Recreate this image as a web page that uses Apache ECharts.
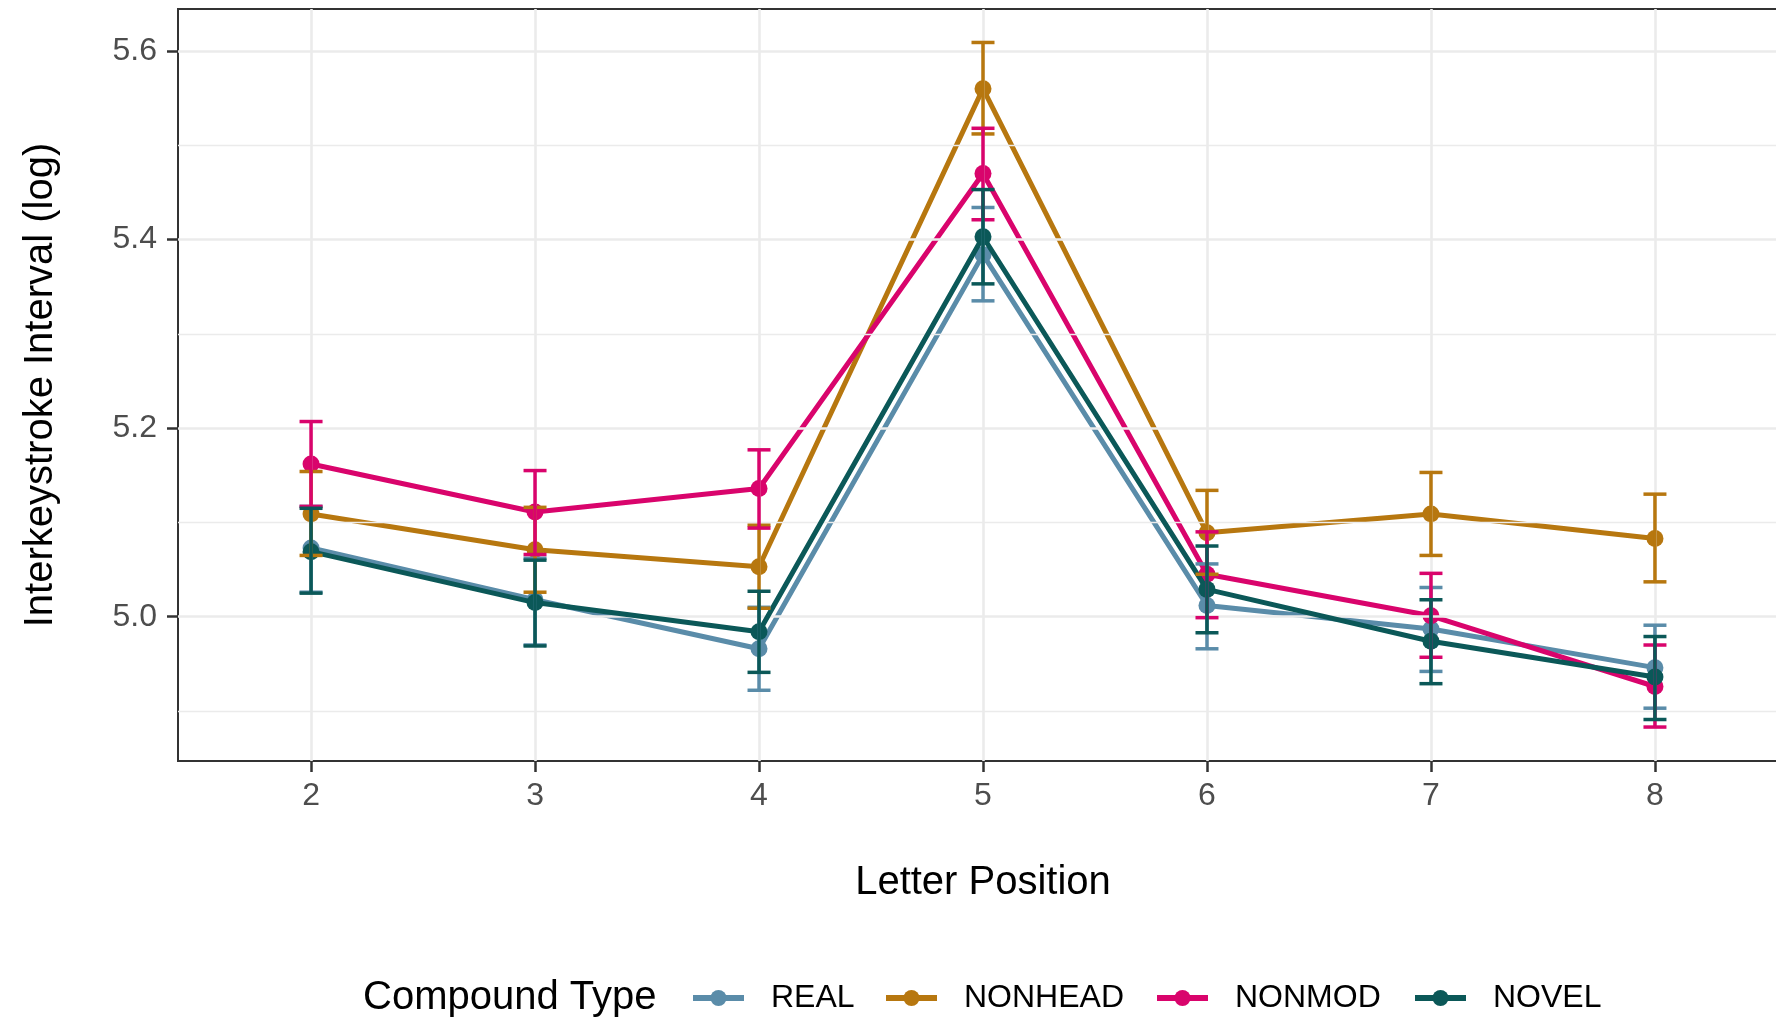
<!DOCTYPE html>
<html>
<head>
<meta charset="utf-8">
<script src="https://cdn.jsdelivr.net/npm/echarts@6/dist/echarts.min.js"></script>
<style>html,body{margin:0;padding:0;background:#fff;}#c{width:1776px;height:1022px;}</style>
</head>
<body>
<div id="c"></div>
<script>
const positions = [2, 3, 4, 5, 6, 7, 8];
const groups = ['REAL', 'NONHEAD', 'NONMOD', 'NOVEL'];
const colors = ['#5a8ca9', '#b7770f', '#d9046c', '#0b5858'];

const realMean = [5.073, 5.018, 4.966, 5.384, 5.012, 4.987, 4.946];
const realLow  = [5.026, 4.970, 4.922, 5.335, 4.966, 4.942, 4.903];
const realHigh = [5.117, 5.062, 5.010, 5.434, 5.056, 5.031, 4.991];

const nonheadMean = [5.109, 5.071, 5.053, 5.560, 5.089, 5.109, 5.083];
const nonheadLow  = [5.065, 5.026, 5.009, 5.512, 5.045, 5.065, 5.037];
const nonheadHigh = [5.154, 5.116, 5.097, 5.609, 5.134, 5.153, 5.130];

const nonmodMean = [5.162, 5.111, 5.136, 5.470, 5.045, 5.001, 4.926];
const nonmodLow  = [5.117, 5.066, 5.094, 5.421, 4.999, 4.957, 4.883];
const nonmodHigh = [5.207, 5.155, 5.177, 5.518, 5.090, 5.046, 4.970];

const novelMean = [5.069, 5.015, 4.984, 5.403, 5.029, 4.974, 4.936];
const novelLow  = [5.025, 4.969, 4.941, 5.353, 4.983, 4.929, 4.891];
const novelHigh = [5.115, 5.060, 5.027, 5.453, 5.075, 5.018, 4.979];

const yTicks = [5.0, 5.2, 5.4, 5.6];
const yMinor = [4.9, 5.1, 5.3, 5.5];
const xTicks = [2, 3, 4, 5, 6, 7, 8];

const means = [realMean, nonheadMean, nonmodMean, novelMean];
const lows = [realLow, nonheadLow, nonmodLow, novelLow];
const highs = [realHigh, nonheadHigh, nonmodHigh, novelHigh];

const FONT = 'Liberation Sans, Arial, sans-serif';
const chart = echarts.init(document.getElementById('c'), null, {renderer: 'canvas'});

const series = [];
// gridlines
series.push({
  type: 'line', name: '_grid', data: [], silent: true, z: 0,
  markLine: {
    silent: true, symbol: 'none', label: {show: false}, animation: false,
    emphasis: {disabled: true},
    data: [
      ...yMinor.map(v => ({yAxis: v, lineStyle: {color: '#ebebeb', width: 1.3, type: 'solid'}})),
      ...yTicks.map(v => ({yAxis: v, lineStyle: {color: '#ebebeb', width: 2.6, type: 'solid'}})),
      ...xTicks.map(v => ({xAxis: v, lineStyle: {color: '#ebebeb', width: 2.6, type: 'solid'}}))
    ]
  }
});
groups.forEach((g, gi) => {
  series.push({
    type: 'line', name: g, z: 2 + gi,
    data: positions.map((p, i) => [p, means[gi][i]]),
    symbol: 'circle', symbolSize: 17, showSymbol: true,
    lineStyle: {color: colors[gi], width: 5},
    itemStyle: {color: colors[gi]},
    emphasis: {disabled: true}, animation: false
  });
});
groups.forEach((g, gi) => {
  series.push({
    type: 'custom', name: g + '_err', z: 10 + gi,
    data: positions.map((p, i) => [p, lows[gi][i], highs[gi][i]]),
    encode: {x: 0, y: [1, 2]},
    renderItem: function (params, api) {
      const x = api.value(0);
      const a = api.coord([x, api.value(1)]);
      const b = api.coord([x, api.value(2)]);
      const hw = 11.5;
      const st = {stroke: colors[gi], lineWidth: 3.5, fill: null};
      return {type: 'group', children: [
        {type: 'line', shape: {x1: a[0], y1: a[1], x2: b[0], y2: b[1]}, style: st},
        {type: 'line', shape: {x1: a[0] - hw, y1: a[1], x2: a[0] + hw, y2: a[1]}, style: st},
        {type: 'line', shape: {x1: b[0] - hw, y1: b[1], x2: b[0] + hw, y2: b[1]}, style: st}
      ]};
    },
    animation: false, silent: true
  });
});

const legendX = [690, 883, 1154, 1412];
const legends = groups.map((g, gi) => ({
  data: [g], left: legendX[gi], top: 982, orient: 'horizontal', padding: 0,
  itemWidth: 51, itemHeight: 20, selectedMode: false,
  lineStyle: {width: 6},
  textStyle: {fontFamily: FONT, fontSize: 32, color: '#000', lineHeight: 32, padding: [0, 0, 0, 22]}
}));

chart.setOption({
  backgroundColor: '#fff',
  animation: false,
  title: {
    text: 'Compound Type', left: 363, top: 978, padding: 0,
    textStyle: {fontFamily: FONT, fontSize: 40, fontWeight: 'normal', color: '#000', lineHeight: 40}
  },
  legend: legends,
  grid: {
    left: 178, top: 9, right: -12, bottom: 261,
    show: true, borderColor: '#333333', borderWidth: 2, backgroundColor: 'transparent',
    containLabel: false, outerBoundsMode: 'none'
  },
  xAxis: {
    type: 'value', min: 1.406, max: 8.594,
    name: 'Letter Position', nameLocation: 'middle', nameGap: 102,
    nameTextStyle: {fontFamily: FONT, fontSize: 40, color: '#000'},
    axisLine: {show: false},
    axisTick: {show: true, length: 11, customValues: xTicks, lineStyle: {color: '#333', width: 2.5}},
    axisLabel: {customValues: xTicks, fontFamily: FONT, fontSize: 32, color: '#4d4d4d', margin: 19},
    splitLine: {show: false}
  },
  yAxis: {
    type: 'value', min: 4.847, max: 5.6445,
    name: 'Interkeystroke Interval (log)', nameLocation: 'middle', nameGap: 117, nameRotate: 90,
    nameTextStyle: {fontFamily: FONT, fontSize: 40, color: '#000'},
    axisLine: {show: false},
    axisTick: {show: true, length: 11, customValues: yTicks, lineStyle: {color: '#333', width: 2.5}},
    axisLabel: {customValues: yTicks, fontFamily: FONT, fontSize: 32, color: '#4d4d4d', margin: 21,
      formatter: v => v.toFixed(1)},
    splitLine: {show: false}
  },
  series: series
});
</script>
</body>
</html>
